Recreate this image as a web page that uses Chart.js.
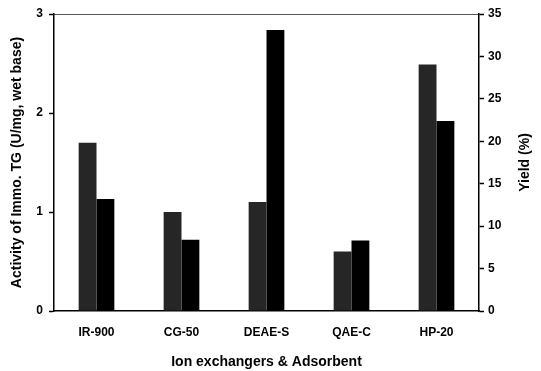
<!DOCTYPE html>
<html>
<head>
<meta charset="utf-8">
<script src="https://cdn.jsdelivr.net/npm/chart.js@4/dist/chart.umd.min.js"></script>
<style>
    html, body { margin: 0; padding: 0; background: #fff; }
    #wrap { width: 541px; height: 371px; }
</style>
</head>
<body>
<div id="wrap"><canvas id="resinChart" width="541" height="371"></canvas></div>
<script>
// Data
const categories = ['IR-900', 'CG-50', 'DEAE-S', 'QAE-C', 'HP-20'];
const activity = [1.70, 1.00, 1.10, 0.60, 2.49];      // U/mg, wet base (left axis)
const yieldPct = [13.2, 8.4, 33.1, 8.3, 22.4];        // % (right axis)
const activityTicks = [0, 1, 2, 3];
const yieldTicks = [0, 5, 10, 15, 20, 25, 30, 35];

const tickFont = { family: 'Liberation Sans, Arial, sans-serif', size: 12, weight: 'bold' };
const titleFont = { family: 'Liberation Sans, Arial, sans-serif', size: 14, weight: 'bold' };

// right-hand title reads bottom-to-top like the left one
const rightTitle = {
    id: 'rightTitle',
    afterDraw(chart) {
        const ctx = chart.ctx;
        const area = chart.chartArea;
        const y1 = chart.scales.y1;
        ctx.save();
        ctx.translate(y1.right - 16, (area.top + area.bottom) / 2);
        ctx.rotate(-Math.PI / 2);
        ctx.font = 'bold 14px Liberation Sans, Arial, sans-serif';
        ctx.fillStyle = '#000';
        ctx.textAlign = 'center';
        ctx.textBaseline = 'middle';
        ctx.fillText('Yield (%)', 0, 0);
        ctx.restore();
    }
};

document.addEventListener('DOMContentLoaded', function() {
    const ctx = document.getElementById('resinChart').getContext('2d');
    new Chart(ctx, {
        type: 'bar',
        data: {
            labels: categories,
            datasets: [{
                label: 'Activity',
                data: activity,
                yAxisID: 'y',
                backgroundColor: '#262626',
                borderWidth: 0
            }, {
                label: 'Yield',
                data: yieldPct,
                yAxisID: 'y1',
                backgroundColor: '#000000',
                borderWidth: 0
            }]
        },
        options: {
            responsive: false,
            animation: false,
            layout: { padding: 0 },
            datasets: {
                bar: {
                    categoryPercentage: 0.42,
                    barPercentage: 1.0
                }
            },
            plugins: {
                legend: { display: false },
                tooltip: { enabled: false }
            },
            scales: {
                x: {
                    position: 'bottom',
                    grid: { display: false },
                    border: { display: true, color: '#000', width: 1.5 },
                    ticks: { color: '#000', font: tickFont, padding: 6 },
                    title: {
                        display: true,
                        text: 'Ion exchangers & Adsorbent',
                        color: '#000',
                        font: titleFont,
                        padding: { top: 0, bottom: 0 }
                    },
                    afterFit: function(scale) { scale.height = 60; }
                },
                x2: {
                    position: 'top',
                    labels: categories,
                    grid: { display: false },
                    border: { display: true, color: '#555', width: 1 },
                    ticks: { display: false },
                    afterFit: function(scale) { scale.height = 14; }
                },
                y: {
                    position: 'left',
                    min: 0,
                    max: 3,
                    afterBuildTicks: function(scale) {
                        scale.ticks = activityTicks.map(v => ({ value: v }));
                    },
                    grid: { drawOnChartArea: false, tickLength: 5, tickColor: '#000', tickWidth: 1.5 },
                    border: { display: true, color: '#000', width: 1.5 },
                    ticks: { color: '#000', font: tickFont, padding: 6 },
                    title: {
                        display: true,
                        text: 'Activity of Immo. TG (U/mg, wet base)',
                        color: '#000',
                        font: titleFont,
                        padding: 9
                    },
                    afterFit: function(scale) { scale.width = 54; }
                },
                y1: {
                    position: 'right',
                    min: 0,
                    max: 35,
                    afterBuildTicks: function(scale) {
                        scale.ticks = yieldTicks.map(v => ({ value: v }));
                    },
                    grid: { drawOnChartArea: false, tickLength: 5, tickColor: '#000', tickWidth: 1.5 },
                    border: { display: true, color: '#000', width: 1.5 },
                    ticks: { color: '#000', font: tickFont, padding: 4 },
                    afterFit: function(scale) { scale.width = 62; }
                }
            }
        },
        plugins: [rightTitle]
    });
});
</script>
</body>
</html>
